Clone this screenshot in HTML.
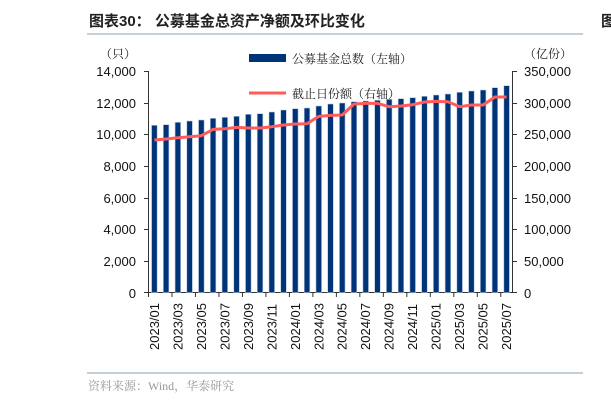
<!DOCTYPE html>
<html><head><meta charset="utf-8"><style>
body{margin:0;background:#fff;width:611px;height:403px;overflow:hidden}
svg{display:block}
text{font-family:"Liberation Sans","Noto Sans CJK SC",sans-serif}
.s{font-family:"Liberation Serif","Noto Serif CJK SC",serif}
</style></head><body>
<svg width="611" height="403" xmlns="http://www.w3.org/2000/svg">
<text x="89" y="26" font-size="15" font-weight="bold" fill="#222">图表30：  公募基金总资产净额及环比变化</text>
<line x1="87" y1="34" x2="583" y2="34" stroke="#9fb3c8" stroke-width="1.2"/>
<text x="601" y="26" font-size="15" font-weight="bold" fill="#222">图</text>
<line x1="87" y1="373" x2="583" y2="373" stroke="#9fb3c8" stroke-width="1.2"/>
<text class="s" x="88" y="390" font-size="12" fill="#999">资料来源：Wind，华泰研究</text>
<text class="s" x="100" y="58" font-size="12" fill="#222">（只）</text>
<text class="s" x="524" y="58" font-size="12" fill="#222">（亿份）</text>
<rect x="249" y="54" width="37" height="8" fill="#003478"/>
<text class="s" x="292" y="63" font-size="12" fill="#222">公募基金总数（左轴）</text>
<line x1="249" y1="93" x2="286" y2="93" stroke="#ff5b5b" stroke-width="3"/>
<text class="s" x="292" y="98" font-size="12" fill="#222">截止日份额（右轴）</text>
<g font-size="13" fill="#111" text-anchor="end">
<text x="136" y="76">14,000</text><text x="136" y="108">12,000</text><text x="136" y="139">10,000</text>
<text x="136" y="171">8,000</text><text x="136" y="203">6,000</text><text x="136" y="234">4,000</text>
<text x="136" y="266">2,000</text><text x="136" y="298">0</text>
</g>
<g font-size="13" fill="#111">
<text x="524" y="76">350,000</text><text x="524" y="108">300,000</text><text x="524" y="139">250,000</text>
<text x="524" y="171">200,000</text><text x="524" y="203">150,000</text><text x="524" y="234">100,000</text>
<text x="524" y="266">50,000</text><text x="524" y="298">0</text>
</g>
<g stroke="#333" stroke-width="1">
<line x1="148.5" y1="71" x2="148.5" y2="293"/>
<line x1="512.5" y1="71" x2="512.5" y2="293"/>
<line x1="148" y1="292.5" x2="513" y2="292.5"/>
<path d="M144 71.5h5M144 103.5h5M144 134.5h5M144 166.5h5M144 198.5h5M144 229.5h5M144 261.5h5M144 292.5h5"/>
<path d="M512 71.5h5M512 103.5h5M512 134.5h5M512 166.5h5M512 198.5h5M512 229.5h5M512 261.5h5M512 292.5h5"/>
</g>
<g id="bars" fill="#003478" stroke="#b8c8de" stroke-width="0.6"></g>
<g id="ticks" stroke="#333"></g>
<polyline id="ln" fill="none" stroke="#ff5b5b" stroke-width="3" stroke-linejoin="round"/>
<g id="xl" font-size="13" fill="#111"></g>
</svg>
<script>
var tops=[125.3,124.7,122.3,121,120,118.3,117.3,116.3,114.3,113.7,112,110,108.7,108,106,104,103,101.7,101,100.3,99.3,98.7,97.7,96.3,95,94,92.3,91,90,87.7,85.7];
var ly=[139.3,138.3,137,136,135,128.7,128,126.7,127.3,127.3,126,124.3,123.3,123,115.7,114.7,114.3,103.3,102.7,102.7,106,105.3,104,101.3,100.7,101,106,104.3,104.3,96.3,96.3];
var ns="http://www.w3.org/2000/svg",b=document.getElementById('bars'),xl=document.getElementById('xl'),tk=document.getElementById('ticks'),pts=[];
var step=(512.5-148.5)/31;
for(var i=0;i<31;i++){var cx=148.5+step*(i+0.5);
var r=document.createElementNS(ns,'rect');r.setAttribute('x',cx-2.8);r.setAttribute('y',tops[i]);r.setAttribute('width',5.6);r.setAttribute('height',292.5-tops[i]);b.appendChild(r);
pts.push(cx.toFixed(1)+','+(ly[i]+0.7));
if(i%2==0){var t=document.createElementNS(ns,'text');var y=(2023+Math.floor(i/12)),m=i%12+1;t.textContent=y+'/'+(m<10?'0':'')+m;
t.setAttribute('transform','translate('+(cx+4.5)+',350) rotate(-90)');xl.appendChild(t);
var l=document.createElementNS(ns,'line');var tx=148.5+step*i;l.setAttribute('x1',tx);l.setAttribute('x2',tx);l.setAttribute('y1',293);l.setAttribute('y2',297);tk.appendChild(l);}
}
document.getElementById('ln').setAttribute('points',pts.join(' '));
</script>
</body></html>
